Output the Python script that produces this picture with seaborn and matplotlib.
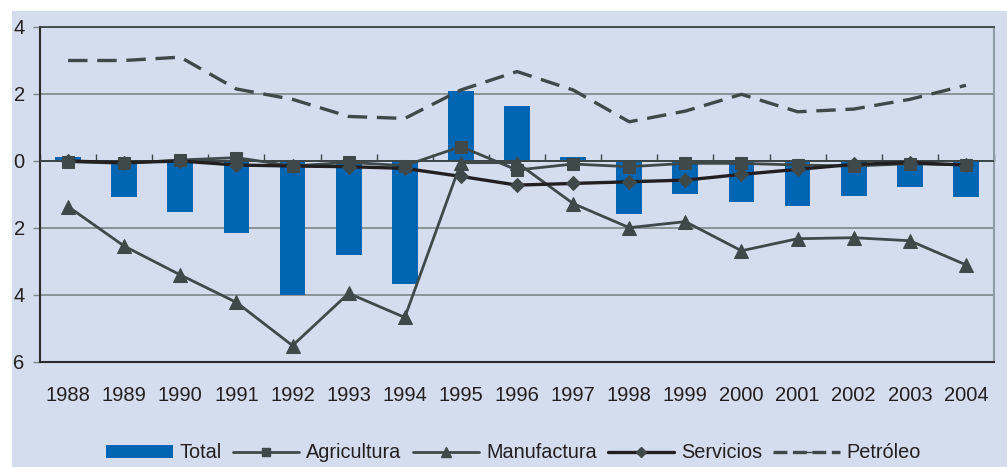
import numpy as np
import pandas as pd
import matplotlib
matplotlib.use("Agg")
import matplotlib.pyplot as plt
import seaborn as sns
from matplotlib.lines import Line2D
from matplotlib.patches import Patch, Rectangle
from matplotlib.ticker import FuncFormatter

# Annual contributions by sector (percentage points)
years = ["1988", "1989", "1990", "1991", "1992", "1993", "1994", "1995", "1996",
         "1997", "1998", "1999", "2000", "2001", "2002", "2003", "2004"]
total = [0.12, -1.08, -1.53, -2.15, -4.0, -2.8, -3.67, 2.1, 1.64,
         0.12, -1.59, -0.99, -1.23, -1.34, -1.03, -0.79, -1.08]
agricultura = [-0.02, -0.07, 0.03, 0.1, -0.15, -0.04, -0.14, 0.43, -0.27,
               -0.09, -0.17, -0.07, -0.07, -0.12, -0.15, -0.08, -0.12]
manufactura = [-1.36, -2.54, -3.4, -4.22, -5.51, -3.95, -4.67, -0.05, -0.05,
               -1.27, -1.99, -1.81, -2.68, -2.32, -2.29, -2.38, -3.1]
servicios = [0.0, -0.05, 0.0, -0.12, -0.15, -0.17, -0.22, -0.46, -0.72,
             -0.67, -0.62, -0.57, -0.4, -0.25, -0.1, -0.05, -0.12]
petroleo = [3.0, 3.0, 3.1, 2.15, 1.84, 1.33, 1.27, 2.12, 2.67,
            2.12, 1.17, 1.49, 1.99, 1.47, 1.55, 1.84, 2.26]
series_labels = ["Total", "Agricultura", "Manufactura", "Servicios", "Petróleo"]

sns.set_theme(style="white")
plt.rcParams["font.family"] = ["Liberation Sans", "DejaVu Sans"]
plt.rcParams["lines.scale_dashes"] = False

BG = "#D4DDEE"
BLUE = "#0066B3"
GRAY = "#3F4949"
BLACK = "#231F20"
PETRO_DASH = (0, (14, 7))

fig = plt.figure(figsize=(10.07, 4.67), dpi=100, facecolor="white")
fig.patches.append(Rectangle((12 / 1007, 0), 1 - 12 / 1007, 1 - 11 / 467,
                             transform=fig.transFigure, facecolor=BG,
                             edgecolor="none", zorder=-10))

ax = fig.add_axes([40 / 1007, 1 - 362 / 467, (994 - 40) / 1007, (362 - 27) / 467])
ax.set_facecolor(BG)

df = pd.DataFrame({"year": years, "total": total})
sns.barplot(data=df, x="year", y="total", color=BLUE, saturation=1,
            width=0.46, linewidth=0, edgecolor=BLUE, ax=ax, zorder=2)

pos = np.arange(len(years))
sns.lineplot(x=pos, y=agricultura, ax=ax, color=GRAY, linewidth=2.0,
             marker="s", markersize=8, markeredgecolor=GRAY, zorder=4)
sns.lineplot(x=pos, y=manufactura, ax=ax, color=GRAY, linewidth=2.0,
             marker="^", markersize=10, markeredgecolor=GRAY, zorder=4)
sns.lineplot(x=pos, y=servicios, ax=ax, color=BLACK, linewidth=2.4,
             marker="D", markersize=7, markerfacecolor=GRAY,
             markeredgecolor=GRAY, zorder=5)
sns.lineplot(x=pos, y=petroleo, ax=ax, color=GRAY, linewidth=2.4, zorder=4)
petro_line = ax.lines[-1]
petro_line.set_linestyle(PETRO_DASH)

ax.set_xlim(-0.5, len(years) - 0.5)
ax.set_ylim(-6, 4)
ax.set_yticks([-6, -4, -2, 0, 2, 4])
ax.yaxis.set_major_formatter(FuncFormatter(lambda v, p: f"{abs(v):.0f}"))
ax.set_xlabel("")
ax.set_ylabel("")

ax.yaxis.grid(True, color="#7C8787", linewidth=1.2, zorder=0)
ax.set_axisbelow(True)
ax.axhline(0, color="#3C4646", linewidth=1.4, zorder=3)

ax.tick_params(axis="y", which="major", direction="out", length=5, width=1,
               color="#7C8787", pad=6, labelsize=14.5, labelcolor=BLACK, left=True)
ax.tick_params(axis="x", which="major", length=0, pad=17, labelsize=14.5,
               labelcolor=BLACK)

for side in ["left", "bottom"]:
    ax.spines[side].set_color("#2A2A2A")
    ax.spines[side].set_linewidth(1.5)
ax.spines["top"].set_color("#3C4646")
ax.spines["top"].set_linewidth(1.3)
ax.spines["right"].set_color("#8E9CA8")
ax.spines["right"].set_linewidth(1.5)

# category boundary ticks along the zero line
zero_frac = (0 - ax.get_ylim()[0]) / (ax.get_ylim()[1] - ax.get_ylim()[0])
sec = ax.secondary_xaxis(zero_frac)
sec.set_xticks(np.arange(-0.5, len(years), 1.0))
sec.set_xticklabels([])
sec.tick_params(direction="out", length=5, width=1, color="#3C4646")
sec.spines["bottom"].set_visible(False)

handles = [
    Patch(facecolor=BLUE, edgecolor="none"),
    Line2D([], [], color=GRAY, linewidth=2.0, marker="s", markersize=6),
    Line2D([], [], color=GRAY, linewidth=2.0, marker="^", markersize=7),
    Line2D([], [], color=BLACK, linewidth=2.4, marker="D", markersize=5,
           markerfacecolor=GRAY, markeredgecolor=GRAY),
    Line2D([], [], color=GRAY, linewidth=2.4, linestyle=(0, (10, 4)),
           marker="_", markersize=8),
]
fig.legend(handles, series_labels, loc="center", bbox_to_anchor=(0.51, 1 - 453 / 467),
           ncol=5, frameon=False, fontsize=14.3, handlelength=3.35,
           handleheight=0.6, handletextpad=0.35, columnspacing=0.55,
           labelcolor=BLACK)

fig.savefig("out.png", dpi=100, facecolor="white")
